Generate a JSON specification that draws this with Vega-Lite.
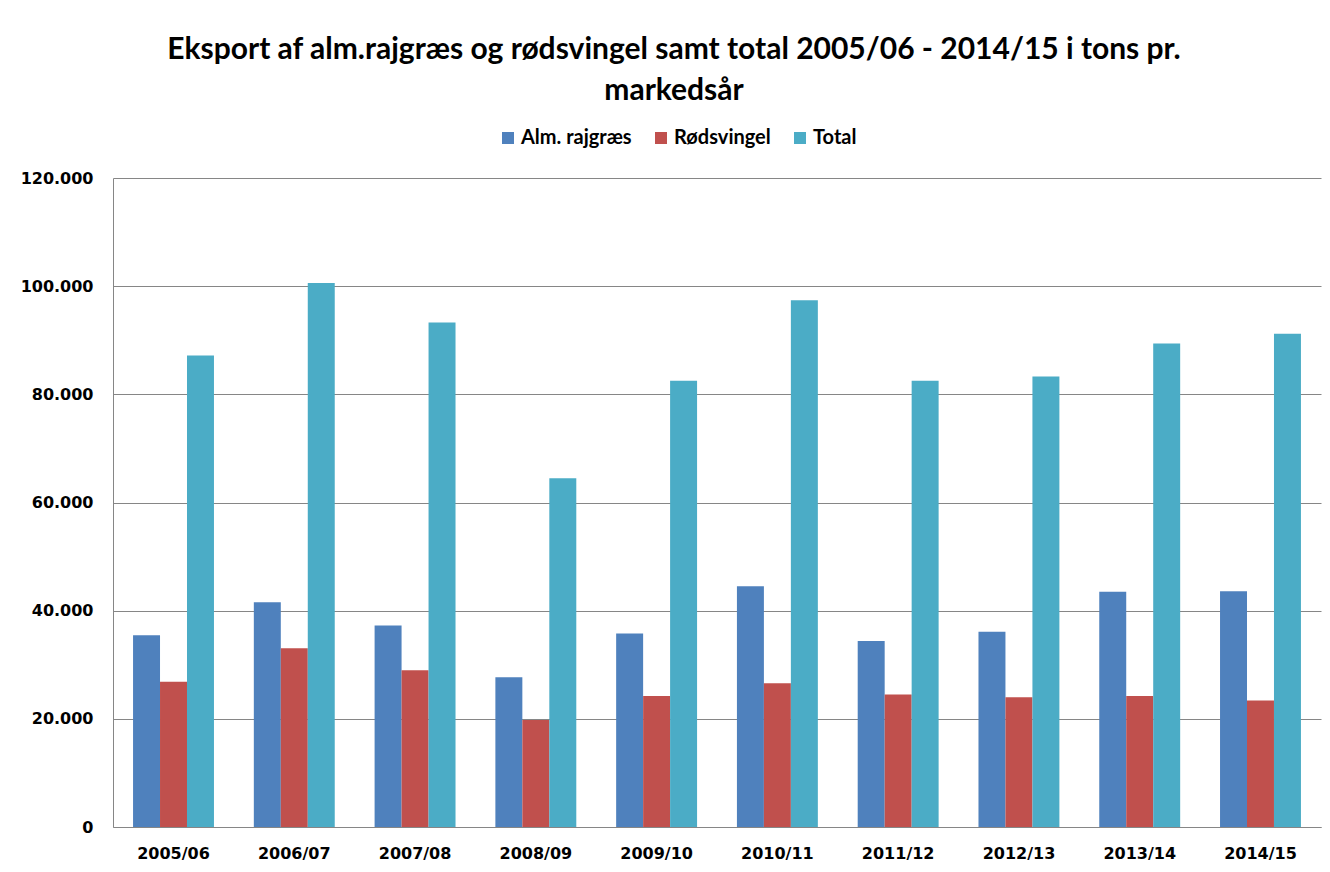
{
  "$schema": "https://vega.github.io/schema/vega-lite/v6.json",
  "width": 1208,
  "height": 649,
  "autosize": {"type": "none"},
  "padding": {"left": 113, "top": 178, "right": 9, "bottom": 45},
  "background": "white",
  "config": {
    "locale": {"number": {"decimal": ",", "thousands": ".", "grouping": [3], "currency": ["", " kr."]}},
    "view": {"stroke": null}
  },
  "title": {
    "text": ["Eksport af alm.rajgræs og rødsvingel samt total 2005/06 - 2014/15 i tons pr.", "markedsår"],
    "font": "Lato",
    "fontWeight": "bold",
    "fontSize": 30,
    "lineHeight": 41,
    "color": "black",
    "anchor": "middle",
    "frame": "group",
    "dx": -43,
    "dy": -22,
    "offset": 0
  },
  "data": {
    "values": [
      {"year": "2005/06", "serie": "Alm. rajgræs", "value": 35450},
      {"year": "2005/06", "serie": "Rødsvingel", "value": 26860},
      {"year": "2005/06", "serie": "Total", "value": 87200},
      {"year": "2006/07", "serie": "Alm. rajgræs", "value": 41570},
      {"year": "2006/07", "serie": "Rødsvingel", "value": 33060},
      {"year": "2006/07", "serie": "Total", "value": 100600},
      {"year": "2007/08", "serie": "Alm. rajgræs", "value": 37270},
      {"year": "2007/08", "serie": "Rødsvingel", "value": 29000},
      {"year": "2007/08", "serie": "Total", "value": 93300},
      {"year": "2008/09", "serie": "Alm. rajgræs", "value": 27700},
      {"year": "2008/09", "serie": "Rødsvingel", "value": 19800},
      {"year": "2008/09", "serie": "Total", "value": 64500},
      {"year": "2009/10", "serie": "Alm. rajgræs", "value": 35800},
      {"year": "2009/10", "serie": "Rødsvingel", "value": 24200},
      {"year": "2009/10", "serie": "Total", "value": 82500},
      {"year": "2010/11", "serie": "Alm. rajgræs", "value": 44500},
      {"year": "2010/11", "serie": "Rødsvingel", "value": 26600},
      {"year": "2010/11", "serie": "Total", "value": 97400},
      {"year": "2011/12", "serie": "Alm. rajgræs", "value": 34400},
      {"year": "2011/12", "serie": "Rødsvingel", "value": 24500},
      {"year": "2011/12", "serie": "Total", "value": 82500},
      {"year": "2012/13", "serie": "Alm. rajgræs", "value": 36100},
      {"year": "2012/13", "serie": "Rødsvingel", "value": 24000},
      {"year": "2012/13", "serie": "Total", "value": 83300},
      {"year": "2013/14", "serie": "Alm. rajgræs", "value": 43500},
      {"year": "2013/14", "serie": "Rødsvingel", "value": 24200},
      {"year": "2013/14", "serie": "Total", "value": 89400},
      {"year": "2014/15", "serie": "Alm. rajgræs", "value": 43600},
      {"year": "2014/15", "serie": "Rødsvingel", "value": 23400},
      {"year": "2014/15", "serie": "Total", "value": 91200}
    ]
  },
  "mark": {"type": "bar"},
  "encoding": {
    "x": {
      "field": "year",
      "type": "nominal",
      "scale": {"paddingInner": 0.33, "paddingOuter": 0.166},
      "axis": {
        "title": null,
        "labelAngle": 0,
        "labelFont": "DejaVu Sans",
        "labelFontWeight": "bold",
        "labelFontSize": 16,
        "labelColor": "black",
        "labelPadding": 18,
        "ticks": false,
        "tickSize": 0,
        "domainColor": "#868686",
        "domainWidth": 1,
        "grid": false
      }
    },
    "xOffset": {
      "field": "serie",
      "type": "nominal",
      "sort": ["Alm. rajgræs", "Rødsvingel", "Total"],
      "scale": {"paddingInner": 0, "paddingOuter": 0}
    },
    "y": {
      "field": "value",
      "type": "quantitative",
      "scale": {"domain": [0, 120000], "nice": false},
      "axis": {
        "title": null,
        "values": [0, 20000, 40000, 60000, 80000, 100000, 120000],
        "format": ",d",
        "labelFont": "DejaVu Sans",
        "labelFontWeight": "bold",
        "labelFontSize": 16,
        "labelColor": "black",
        "labelPadding": 20,
        "ticks": false,
        "tickSize": 0,
        "domainColor": "#868686",
        "domainWidth": 1,
        "gridColor": "#868686",
        "gridWidth": 1
      }
    },
    "color": {
      "field": "serie",
      "type": "nominal",
      "scale": {"domain": ["Alm. rajgræs", "Rødsvingel", "Total"], "range": ["#4F81BD", "#C0504D", "#4BACC6"]},
      "legend": {
        "orient": "none",
        "direction": "horizontal",
        "legendX": 385,
        "legendY": -50,
        "title": null,
        "symbolType": "square",
        "symbolSize": 144,
        "symbolStrokeWidth": 0,
        "labelFont": "Lato",
        "labelFontWeight": "bold",
        "labelFontSize": 20,
        "labelColor": "black",
        "labelOffset": 3,
        "columnPadding": 19
      }
    }
  }
}
